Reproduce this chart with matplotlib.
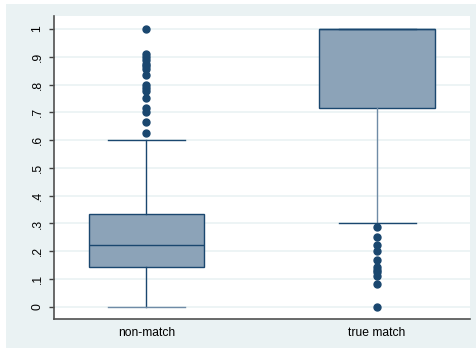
import matplotlib
matplotlib.use("Agg")
import matplotlib.pyplot as plt
from matplotlib.patches import Rectangle

# match score distribution by group
groups = ["non-match", "true match"]
q1 = [0.143, 0.714]
medians = [0.222, 1.0]
q3 = [0.333, 1.0]
whisker_lo = [0.0, 0.30]
whisker_hi = [0.60, 1.0]
outliers = [
    [0.625, 0.667, 0.70, 0.714, 0.75, 0.778, 0.789, 0.80, 0.833, 0.857,
     0.867, 0.875, 0.889, 0.90, 0.909, 1.0],
    [0.0, 0.083, 0.111, 0.125, 0.133, 0.143, 0.167, 0.20, 0.222, 0.25, 0.286],
]
yticks = [0, 0.1, 0.2, 0.3, 0.4, 0.5, 0.6, 0.7, 0.8, 0.9, 1.0]
ytick_labels = ["0", ".1", ".2", ".3", ".4", ".5", ".6", ".7", ".8", ".9", "1"]

navy = "#1a476f"
light_navy = "#6f8ba6"
box_fill = "#8ca3b8"
outer_bg = "#eaf2f3"

plt.rcParams["font.family"] = ["Liberation Sans", "DejaVu Sans"]

fig = plt.figure(figsize=(4.76, 3.49), dpi=100)
fig.patch.set_facecolor("white")
fig.patches.append(Rectangle((6 / 476, 1 / 349), 470 / 476, 344 / 349,
                             transform=fig.transFigure, facecolor=outer_bg,
                             edgecolor="none", zorder=-10))

ax = fig.add_axes([54 / 476, 30 / 349, 416 / 476, 303 / 349])
ax.set_facecolor("white")

stats = []
for i, name in enumerate(groups):
    stats.append({
        "label": name, "q1": q1[i], "med": medians[i], "q3": q3[i],
        "whislo": whisker_lo[i], "whishi": whisker_hi[i], "fliers": outliers[i],
    })

parts = ax.bxp(
    stats, positions=[1, 2], widths=0.5, capwidths=0.334, patch_artist=True,
    boxprops=dict(facecolor=box_fill, edgecolor=navy, linewidth=1.0),
    medianprops=dict(color=navy, linewidth=1.0),
    whiskerprops=dict(color=navy, linewidth=1.0),
    capprops=dict(color=navy, linewidth=1.0),
    flierprops=dict(marker="o", markersize=5, markerfacecolor=navy,
                    markeredgecolor=navy, linestyle="none"),
)
# lighter strokes where the lines sit on the grid
parts["caps"][0].set_color(light_navy)
parts["whiskers"][2].set_color(light_navy)

ax.set_xlim(0.599, 2.403)
ax.set_ylim(-0.044, 1.047)
ax.set_yticks(yticks)
ax.set_yticklabels(ytick_labels, rotation=90, va="center")
ax.yaxis.grid(True, color=outer_bg, linewidth=1.2)
ax.set_axisbelow(True)

ax.tick_params(axis="y", length=3.5, width=1, color="#404040", pad=4,
               labelsize=8.7, labelcolor="black")
ax.tick_params(axis="x", length=0, pad=6, labelsize=8.7, labelcolor="black")

for side in ["top", "right"]:
    ax.spines[side].set_visible(False)
for side in ["left", "bottom"]:
    ax.spines[side].set_color("#505050")
    ax.spines[side].set_linewidth(1.2)

fig.savefig("out.png", dpi=100)
